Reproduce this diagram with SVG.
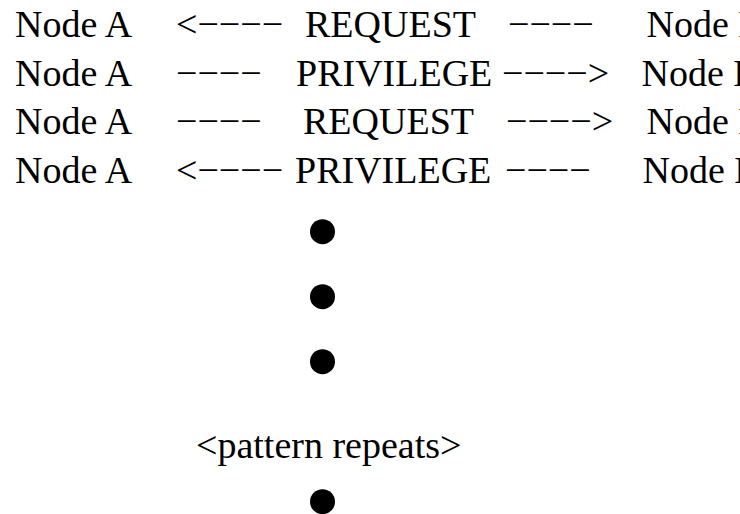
<svg xmlns="http://www.w3.org/2000/svg" width="740" height="514" viewBox="0 0 740 514">
<style>
.t{font-family:'Liberation Serif','DejaVu Serif',serif;font-size:38px;fill:#000}
.dot{fill:#000}
</style>
<rect width="740" height="514" fill="#fff"/>
<g id="row1" class="t">
<text x="15" y="37">Node A</text>
<text x="176" y="37">&lt;−−−−</text>
<text x="305" y="37">REQUEST</text>
<text x="508" y="37">−−−−</text>
<text x="646.5" y="37">Node B</text>
</g>
<g id="row2" class="t">
<text x="15" y="85.5">Node A</text>
<text x="176" y="85.5">−−−−</text>
<text x="296" y="85.5">PRIVILEGE</text>
<text x="502" y="85.5">−−−−&gt;</text>
<text x="641.5" y="85.5">Node B</text>
</g>
<g id="row3" class="t">
<text x="15" y="134">Node A</text>
<text x="176" y="134">−−−−</text>
<text x="303" y="134">REQUEST</text>
<text x="506" y="134">−−−−&gt;</text>
<text x="646.5" y="134">Node B</text>
</g>
<g id="row4" class="t">
<text x="15" y="182.5">Node A</text>
<text x="176" y="182.5">&lt;−−−−</text>
<text x="295" y="182.5">PRIVILEGE</text>
<text x="505" y="182.5">−−−−</text>
<text x="642.5" y="182.5">Node B</text>
</g>
<g id="dots">
<circle class="dot" cx="322.5" cy="231.7" r="12.5"/>
<circle class="dot" cx="322.5" cy="296.7" r="12.5"/>
<circle class="dot" cx="322.5" cy="361.7" r="12.5"/>
<text class="t" x="196" y="458">&lt;pattern repeats&gt;</text>
<circle class="dot" cx="322.5" cy="501.7" r="12.5"/>
</g>
</svg>
